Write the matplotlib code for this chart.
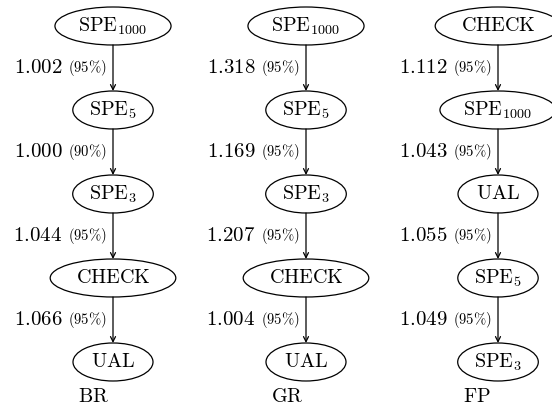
import matplotlib
matplotlib.use('Agg')
import matplotlib.pyplot as plt
from matplotlib.patches import Ellipse

plt.rcParams['mathtext.fontset'] = 'cm'
plt.rcParams['font.family'] = 'serif'
plt.rcParams['font.serif'] = ['cmr10', 'DejaVu Serif']

# orderings per variant, top to bottom
br_nodes = ['SPE1000', 'SPE5', 'SPE3', 'CHECK', 'UAL']
br_vals = [1.002, 1.000, 1.044, 1.066]
br_conf = [95, 90, 95, 95]

gr_nodes = ['SPE1000', 'SPE5', 'SPE3', 'CHECK', 'UAL']
gr_vals = [1.318, 1.169, 1.207, 1.004]
gr_conf = [95, 95, 95, 95]

fp_nodes = ['CHECK', 'SPE1000', 'UAL', 'SPE5', 'SPE3']
fp_vals = [1.112, 1.043, 1.055, 1.049]
fp_conf = [95, 95, 95, 95]

panels = ['BR', 'GR', 'FP']


def tex(name):
    if name.startswith('SPE'):
        return r'$\mathrm{SPE}_{%s}$' % name[3:]
    return r'$\mathrm{%s}$' % name


fig = plt.figure(figsize=(5.52, 4.12), dpi=100)
ax = fig.add_axes([0, 0, 1, 1])
ax.set_xlim(0, 552)
ax.set_ylim(412, 0)
ax.axis('off')
fig.canvas.draw()
renderer = fig.canvas.get_renderer()

col_x = [113, 306, 498]
y0, dy = 26, 84
node_h = 38

data = [(br_nodes, br_vals, br_conf), (gr_nodes, gr_vals, gr_conf),
        (fp_nodes, fp_vals, fp_conf)]

for cx, (nodes, vals, conf), name in zip(col_x, data, panels):
    for i, n in enumerate(nodes):
        cy = y0 + i * dy
        t = ax.text(cx, cy, tex(n), ha='center', va='center', fontsize=14.5)
        tw = t.get_window_extent(renderer).width
        ax.add_patch(Ellipse((cx, cy), max(80, tw * 1.68), node_h,
                             facecolor='white', edgecolor='black', lw=0.9, zorder=1))
    for i, (v, c) in enumerate(zip(vals, conf)):
        ya = y0 + i * dy + node_h / 2
        yb = y0 + (i + 1) * dy - node_h / 2
        ax.annotate('', xy=(cx, yb), xytext=(cx, ya),
                    arrowprops=dict(arrowstyle='->', lw=0.9, color='black',
                                    shrinkA=0, shrinkB=0, mutation_scale=9))
        ym = (ya + yb) / 2
        p = ax.text(cx - 6, ym, r'$(%d\%%)$' % c, ha='right', va='center', fontsize=10.5)
        pw = p.get_window_extent(renderer).width
        ax.text(cx - 6 - pw - 6, ym, r'$%.3f$' % v, ha='right', va='center', fontsize=15)
    ax.text(cx - 35, y0 + 4 * dy + 35, r'$\mathrm{%s}$' % name, ha='left',
            va='center', fontsize=14.5)

fig.savefig('out.png', dpi=100)
